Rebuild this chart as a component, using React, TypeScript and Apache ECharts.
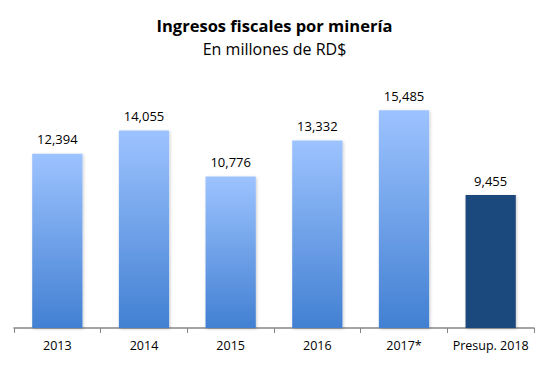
import React, { useEffect, useRef } from "react";
import * as echarts from "echarts";

const categories = ["2013", "2014", "2015", "2016", "2017*", "Presup. 2018"];
const values = [12394, 14055, 10776, 13332, 15485, 9455];
const titleText = "Ingresos fiscales por minería";
const subtitleText = "En millones de RD$";

const FONT = "'Open Sans', 'Liberation Sans', sans-serif";

export default function App() {
  const ref = useRef<HTMLDivElement>(null);
  useEffect(() => {
    if (!ref.current) return;
    const chart = echarts.init(ref.current, undefined, { renderer: "svg" });
    const gradient = new echarts.graphic.LinearGradient(0, 0, 0, 1, [
      { offset: 0, color: "#9DC3FF" },
      { offset: 1, color: "#4280D2" },
    ]);
    chart.setOption({
      animation: false,
      backgroundColor: "#ffffff",
      title: {
        text: titleText,
        subtext: subtitleText,
        left: "center",
        top: 8,
        itemGap: 1,
        textStyle: { fontFamily: FONT, fontSize: 16.5, fontWeight: "bold", color: "#000", lineHeight: 24 },
        subtextStyle: { fontFamily: FONT, fontSize: 16, color: "#000", lineHeight: 22 },
      },
      grid: { left: 14, right: 15, top: 75, bottom: 39, containLabel: false },
      xAxis: {
        type: "category",
        data: categories,
        axisLine: { lineStyle: { color: "#868686", width: 1.5 } },
        axisTick: { show: true, length: 5, lineStyle: { color: "#868686" } },
        axisLabel: { fontFamily: FONT, fontSize: 12.5, color: "#000", margin: 11, interval: 0 },
      },
      yAxis: {
        type: "value",
        min: 0,
        max: 18000,
        show: false,
        splitLine: { show: false },
      },
      series: [
        {
          type: "bar",
          barCategoryGap: "42%",
          data: values.map((v, i) => ({
            value: v,
            itemStyle:
              i === values.length - 1
                ? { color: "#1F497D" }
                : { color: gradient },
          })),
          itemStyle: {
            shadowColor: "rgba(0,0,0,0.2)",
            shadowBlur: 3,
            shadowOffsetX: 1,
            shadowOffsetY: 1,
          },
          label: {
            show: true,
            position: "top",
            distance: 8,
            fontFamily: FONT,
            fontSize: 13,
            color: "#000",
            formatter: (p: any) => p.value.toLocaleString("en-US"),
          },
        },
      ],
    });
    return () => chart.dispose();
  }, []);
  return <div ref={ref} style={{ width: 549, height: 367, margin: -8 }} />;
}
